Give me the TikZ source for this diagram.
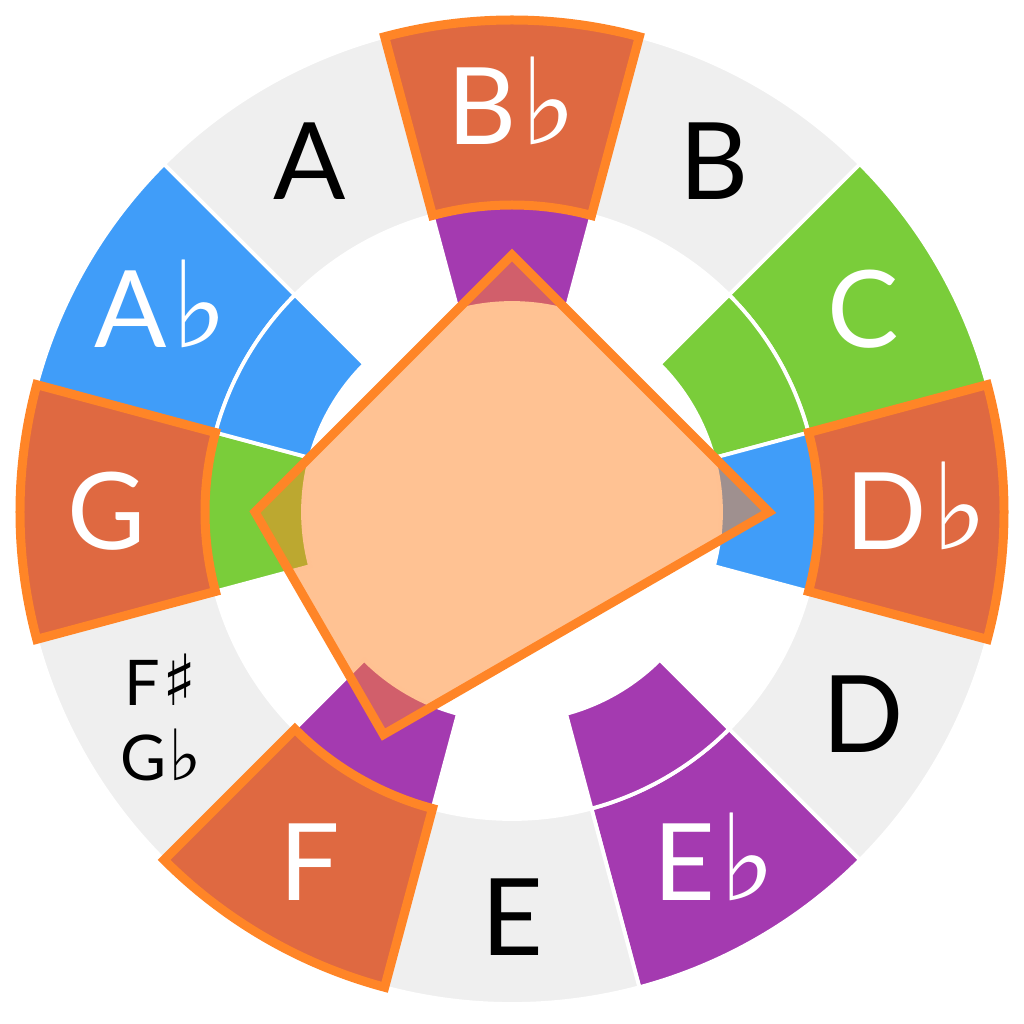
\documentclass[tikz,border=0pt]{standalone}
\usepackage{fontspec}
\setmainfont{Lato}
\newfontfamily\symfont[Scale=1.12]{DejaVu Sans}
\definecolor{ggray}{HTML}{EFEFEF}
\definecolor{hlfill}{HTML}{DF6941}
\definecolor{hlline}{HTML}{FF8527}
\definecolor{cpurple}{HTML}{A43AB0}
\definecolor{cblue}{HTML}{409DF9}
\definecolor{cgreen}{HTML}{7ACD3A}
\newcommand\flt{\kern0.04em{\symfont ♭}}
\newcommand\shp{\kern0.04em{\symfont ♯}}
\newcommand\annsector[4]{%
  \path[#4] ({#1-15}:#2) -- ({#1-15}:#3)
    arc[start angle={#1-15}, end angle={#1+15}, radius=#3]
    -- ({#1+15}:#2)
    arc[start angle={#1+15}, end angle={#1-15}, radius=#2] -- cycle;}
\tikzset{
  sect/.style={fill=#1, draw=white, line width=3.8pt, line join=miter},
  insect/.style={fill=#1},
  hlsect/.style={fill=hlfill, draw=hlline, line width=9pt, line join=miter},
  notelbl/.style={font=\fontsize{107}{107}\selectfont, anchor=base, yshift=-38pt, inner sep=0pt},
  smalllbl/.style={font=\fontsize{63}{63}\selectfont, anchor=base, inner sep=0pt},
}
\begin{document}
\begin{tikzpicture}
\useasboundingbox (-512pt,-512pt) rectangle (512pt,512pt);
% outer ring
\annsector{60}{307pt}{492pt}{sect=ggray}
\annsector{30}{307pt}{492pt}{sect=cgreen}
\annsector{-30}{307pt}{492pt}{sect=ggray}
\annsector{-60}{307pt}{492pt}{sect=cpurple}
\annsector{-90}{307pt}{492pt}{sect=ggray}
\annsector{-150}{307pt}{492pt}{sect=ggray}
\annsector{150}{307pt}{492pt}{sect=cblue}
\annsector{120}{307pt}{492pt}{sect=ggray}
% inner ring
\annsector{90}{209pt}{307pt}{sect=cpurple}
\annsector{30}{209pt}{307pt}{sect=cgreen}
\annsector{0}{209pt}{307pt}{sect=cblue}
\annsector{-60}{209pt}{307pt}{sect=cpurple}
\annsector{-120}{209pt}{307pt}{sect=cpurple}
\annsector{180}{209pt}{307pt}{sect=cgreen}
\annsector{150}{209pt}{307pt}{sect=cblue}
% highlighted
\annsector{90}{307pt}{492pt}{hlsect}
\annsector{0}{307pt}{492pt}{hlsect}
\annsector{-120}{307pt}{492pt}{hlsect}
\annsector{180}{307pt}{492pt}{hlsect}
% polygon
\coordinate (pB) at (90:257pt);
\coordinate (pG) at (180:257pt);
\coordinate (pF) at (240:257pt);
\coordinate (pD) at (0:257pt);
\fill[hlline, fill opacity=0.5] (pB) -- (pG) -- (pF) -- (pD) -- cycle;
\draw[hlline, line width=9pt, line join=miter] (pB) -- (pG) -- (pF) -- (pD) -- cycle;
% labels
\node[notelbl, text=white] (lBb) at (90:405pt) {B\flt};
\node[notelbl] (lB) at (60:405pt) {B};
\node[notelbl, text=white] (lC) at (30:405pt) {C};
\node[notelbl, text=white] (lDb) at (0:405pt) {D\flt};
\node[notelbl] (lD) at (-30:405pt) {D};
\node[notelbl, text=white] (lEb) at (-60:405pt) {E\flt};
\node[notelbl] (lE) at (-90:405pt) {E};
\node[notelbl, text=white] (lF) at (-120:405pt) {F};
\node[smalllbl] (lFs) at (-351pt,-193pt) {F\shp};
\node[smalllbl] (lGb) at (-351pt,-268pt) {G\flt};
\node[notelbl, text=white] (lG) at (180:405pt) {G};
\node[notelbl, text=white] (lAb) at (150:405pt) {A\flt};
\node[notelbl] (lA) at (120:405pt) {A};
\end{tikzpicture}
\end{document}
